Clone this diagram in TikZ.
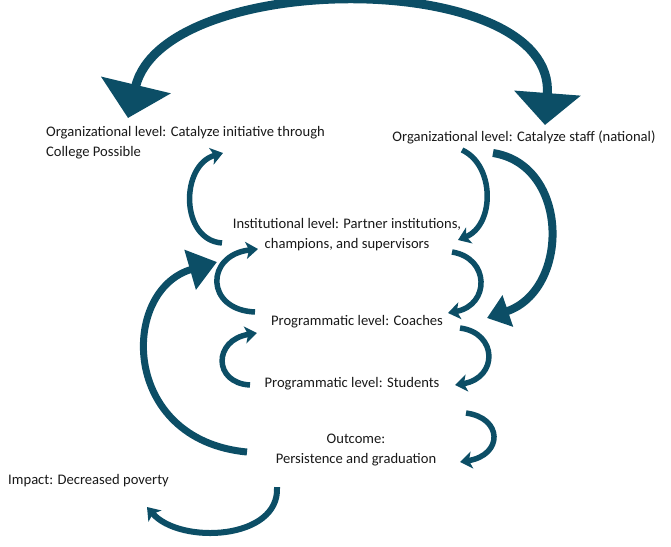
\documentclass[tikz,border=0pt]{standalone}
\usepackage{fontspec}
\setmainfont{Carlito}
\usetikzlibrary{arrows.meta,calc}
\definecolor{arrowteal}{RGB}{12,78,102}
\definecolor{labelgray}{RGB}{25,25,25}
\tikzset{
  tier/.style={font=\fontsize{14.6}{20}\selectfont, text=labelgray,
               align=center, inner sep=0pt},
  curl/.style={arrowteal, line width=5.5pt,
               -{Stealth[length=12pt,width=17pt,inset=3pt]}},
  bigcurl/.style={arrowteal, line width=8pt,
                  -{Triangle[length=22pt,width=32pt]}},
  toparc/.style={arrowteal, line width=9pt,
                 {Triangle[length=34pt,width=70pt]}-{Triangle[length=32pt,width=65pt]}},
}

\begin{document}
\begin{tikzpicture}[x=1pt,y=-1pt]
  \path[use as bounding box] (0,0) rectangle (671,546);

  % levels
  \node[tier, align=left] (orgcp) at (185.5,143)
    {Organizational level: Catalyze initiative through\\College Possible};
  \node[tier] (orgstaff) at (524,137)
    {Organizational level: Catalyze staff (national)};
  \node[tier] (inst) at (347,235)
    {Institutional level: Partner institutions,\\champions, and supervisors};
  \node[tier] (coach) at (357,322) {Programmatic level: Coaches};
  \node[tier] (stud) at (352,384) {Programmatic level: Students};
  \node[tier] (outc) at (356,450) {Outcome:\\Persistence and graduation};
  \node[tier] (impact) at (88.5,481) {Impact: Decreased poverty};

  % the two organizations
  \draw[toparc] ($(orgcp)+(-57.5,-25)$) .. controls +(36,-150) and +(12,-157)
    .. ($(orgstaff)+(21,-12)$);

  % right side, going down
  \draw[curl] ($(orgstaff)+(-62,13)$) .. controls +(33,15) and +(37,-15)
    .. ($(inst)+(111,5)$);
  \draw[bigcurl] ($(orgstaff)+(-31,16)$) .. controls +(77,12) and +(83,-28)
    .. ($(coach)+(130,-4)$);
  \draw[curl] ($(inst)+(105,17)$) .. controls +(38,6) and +(42,-8)
    .. ($(coach)+(91,-9)$);
  \draw[curl] ($(coach)+(103,6)$) .. controls +(38,5) and +(43,-7)
    .. ($(stud)+(103,1)$);
  \draw[curl] ($(stud)+(114,29)$) .. controls +(37,5) and +(43,-7)
    .. ($(outc)+(104,12)$);

  % left side, going up
  \draw[curl] ($(inst)+(-125,8)$) .. controls +(-42,-3) and +(-43,12)
    .. ($(orgcp)+(37.5,10)$);
  \draw[curl] ($(coach)+(-102,-10)$) .. controls +(-50,-2) and +(-53,6)
    .. ($(inst)+(-89,14)$);
  \draw[curl] ($(stud)+(-102,1)$) .. controls +(-37,-2) and +(-44,7)
    .. ($(coach)+(-100,11)$);
  \draw[bigcurl, line width=7pt, -{Triangle[length=28pt,width=40pt]}]
    ($(outc)+(-109,2)$) .. controls +(-127,-12) and +(-97,28)
    .. ($(inst)+(-130,27)$);

  % impact
  \draw[curl, line width=6pt] ($(outc)+(-79,37)$) .. controls +(3,53) and +(33,38)
    .. ($(impact)+(58.5,26)$);
\end{tikzpicture}
\end{document}
